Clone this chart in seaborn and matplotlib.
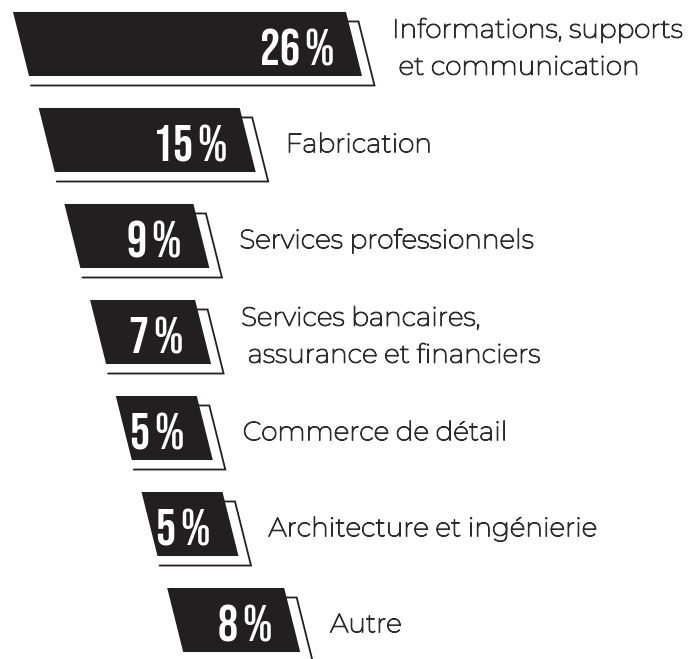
import matplotlib
matplotlib.use('Agg')
import matplotlib.pyplot as plt
import matplotlib.patheffects as pe
import pandas as pd
import seaborn as sns
from matplotlib.patches import Polygon
from matplotlib.lines import Line2D

# Data
categories = ['Informations, supports\n et communication', 'Fabrication',
              'Services professionnels', 'Services bancaires,\n assurance et financiers',
              'Commerce de détail', 'Architecture et ingénierie', 'Autre']
shares = [26, 15, 9, 7, 5, 5, 8]

df = pd.DataFrame({'category': categories, 'share': shares})

ink = '#231f20'
px = 12.0  # pixels per percent unit on the x axis

sns.set_style('white')
num_font = ['Bebas Neue', 'DejaVu Sans']
lab_font = ['Montserrat', 'Open Sans', 'DejaVu Sans']

fig = plt.figure(figsize=(6.97, 6.59), dpi=100)
ax = fig.add_axes([0, 0, 1, 1])
sns.barplot(data=df, x='share', y='category', orient='h', width=0.667,
            color=ink, errorbar=None, ax=ax)
ax.set_xlim(0, 697 / px)
ax.set_ylim(6.406, -0.458)
ax.axis('off')

slant = 16 / px          # right shift of the bottom edge
sdx, sdy = 12.5 / px, 9.5 / 96   # shadow offset
thicken = [pe.withStroke(linewidth=0.8, foreground='#2b2b2b')]

for i, p in enumerate(list(ax.patches)):
    w, y0, h = p.get_width(), p.get_y(), p.get_height()
    p.set_visible(False)
    left = (13 + 25.7 * i) / px
    right = left + w + 21 / px
    y1 = y0 + h
    # shadow outline
    sh = [(left + slant + 2 / px, y1 + sdy), (right + slant + sdx, y1 + sdy),
          (right + sdx, y0 + sdy), (left + sdx, y0 + sdy)]
    ax.add_patch(Polygon(sh, closed=True, facecolor='white', edgecolor='none', zorder=2))
    xs, ys = zip(*sh)
    ax.add_line(Line2D(xs, ys, color=ink, lw=1.3, zorder=3, solid_joinstyle='miter'))
    # the bar itself
    bar = [(left, y0), (right, y0), (right + slant, y1), (left + slant, y1)]
    ax.add_patch(Polygon(bar, closed=True, facecolor=ink, edgecolor='none', zorder=4))
    ax.text(right - 12 / px, y0 + h / 2 + 0.04, f'{shares[i]}\u200a%', color='white',
            family=num_font, fontsize=36,
            ha='right', va='center', zorder=5)
    ax.text(right + 46 / px, y0 + h / 2 + 0.05, categories[i], color='#2b2b2b',
            family=lab_font, fontsize=19, ha='left', va='center',
            linespacing=1.6, zorder=5, path_effects=thicken)

fig.savefig('out.png', dpi=100)
